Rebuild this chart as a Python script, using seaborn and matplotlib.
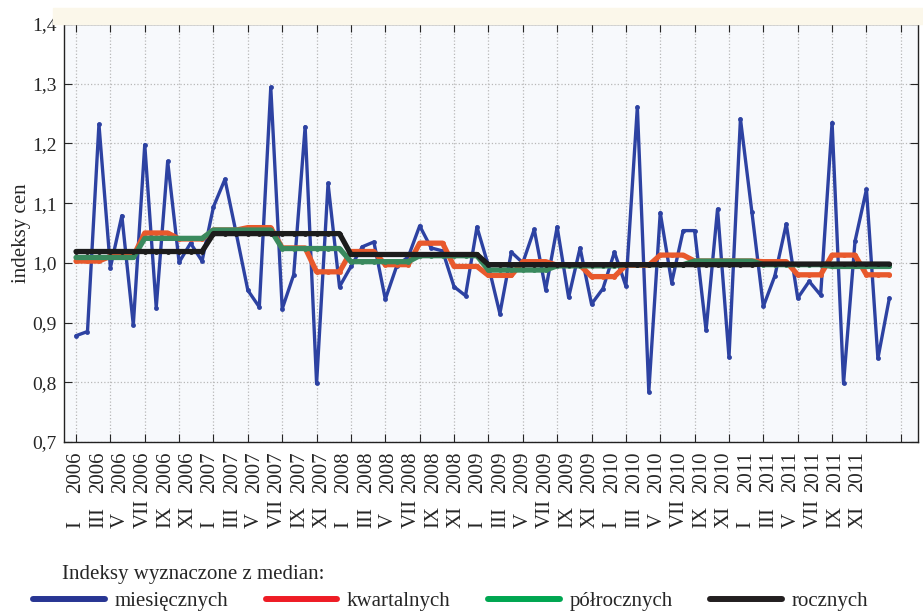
import numpy as np
import pandas as pd
import seaborn as sns
import matplotlib.pyplot as plt
import matplotlib.transforms as mtransforms
from matplotlib.lines import Line2D
from matplotlib.patches import Rectangle

# Dane (indeksy cen, I 2006 - XII 2011)
years = [2006, 2007, 2008, 2009, 2010, 2011]
roman = ["I", "III", "V", "VII", "IX", "XI"]

monthly = [0.878, 0.885, 1.232, 0.992, 1.079, 0.896, 1.198, 0.925, 1.170, 1.001, 1.033, 1.003,
           1.094, 1.140, 1.048, 0.954, 0.926, 1.294, 0.923, 0.980, 1.228, 0.798, 1.133, 0.960,
           0.994, 1.027, 1.035, 0.939, 0.995, 1.010, 1.062, 1.025, 1.020, 0.960, 0.945, 1.060,
           0.995, 0.915, 1.018, 1.000, 1.056, 0.955, 1.060, 0.942, 1.025, 0.931, 0.957, 1.018,
           0.961, 1.261, 0.784, 1.084, 0.967, 1.054, 1.054, 0.887, 1.090, 0.842, 1.241, 1.085,
           0.927, 0.978, 1.065, 0.941, 0.969, 0.946, 1.235, 0.798, 1.036, 1.123, 0.840, 0.941]
quarterly = [1.003, 1.011, 1.050, 1.040,
             1.055, 1.059, 1.025, 0.985,
             1.019, 0.997, 1.033, 0.994,
             0.979, 1.002, 0.996, 0.977,
             0.996, 1.013, 1.003, 1.003,
             1.002, 0.980, 1.013, 0.980]
half_yearly = [1.009, 1.041, 1.055, 1.024, 1.002, 1.012,
               0.988, 0.995, 0.997, 1.003, 0.997, 0.994]
yearly = [1.019, 1.049, 1.014, 0.997, 0.997, 0.998]

series = ["miesięcznych", "kwartalnych", "półrocznych", "rocznych"]
line_colors = ["#2d42a2", "#e8592c", "#3a8a5e", "#1c1c1c"]
legend_colors = ["#283593", "#ee1c25", "#00a651", "#231f20"]

sns.set_style("ticks")
plt.rcParams["font.family"] = ["Liberation Serif", "DejaVu Serif"]
plt.rcParams["font.size"] = 15

df = pd.DataFrame({
    "miesiac": np.arange(len(monthly)),
    "miesięcznych": monthly,
    "kwartalnych": np.repeat(quarterly, 3),
    "półrocznych": np.repeat(half_yearly, 6),
    "rocznych": np.repeat(yearly, 12),
})

fig = plt.figure(figsize=(9.23, 6.11), dpi=100)
fig.patches.append(Rectangle((53 / 923, 587 / 611), 1, 16 / 611, transform=fig.transFigure,
                             color="#fbf7ea", zorder=0))
ax = fig.add_axes([64 / 923, 1 - 442 / 611, (918 - 64) / 923, (442 - 24) / 611])
ax.set_facecolor("#f7f9fc")

widths = [2.4, 3.8, 3.8, 3.8]
for name, col, lw in zip(series, line_colors, widths):
    sns.lineplot(data=df, x="miesiac", y=name, color=col, lw=lw, marker="o",
                 markersize=3.5, markeredgewidth=0, ax=ax)

ax.set_xlim(-1.05, 73.5)
ax.set_ylim(0.7, 1.4)

# siatka co kwartał; opisy w oryginale stoją nieco gęściej niż co 2 miesiące
ax.xaxis.remove_overlapping_locs = False
ax.set_xticks(np.arange(0, 73, 3))
label_pos = np.arange(len(years) * len(roman)) * 1.95
ax.set_xticks(label_pos, minor=True)
ax.set_xticklabels([str(y) for y in years for _ in roman], minor=True, rotation=90)
ax.tick_params(axis="x", which="major", direction="in", length=6, top=True, labelbottom=False)
ax.tick_params(axis="x", which="minor", length=0, pad=7, labelsize=15)

yt = np.round(np.arange(0.7, 1.41, 0.1), 1)
ax.set_yticks(yt)
ax.set_yticklabels([f"{v:.1f}".replace(".", ",") for v in yt])
ax.tick_params(axis="y", direction="in", length=6, right=True, pad=5, labelsize=14)

ax.grid(True, which="major", ls=":", color="#b8b8b8", lw=0.9)
for s in ax.spines.values():
    s.set_color("#222222")
    s.set_linewidth(1.0)

trans = mtransforms.blended_transform_factory(ax.transData, ax.transAxes)
for pos, num in zip(label_pos, roman * len(years)):
    ax.text(pos, -86 / 418, num, transform=trans, rotation=90, ha="center", va="bottom", fontsize=15)

ax.set_xlabel("")
ax.set_ylabel("indeksy cen", fontsize=15, labelpad=1)

# legenda
fig.text(62 / 923, 1 - 575 / 611, "Indeksy wyznaczone z median:", va="center", fontsize=15)
handles = [Line2D([0], [0], color=c, lw=4.3) for c in legend_colors]
fig.legend(handles, series, loc="center left", bbox_to_anchor=(33 / 923, 1 - 601 / 611),
           ncol=4, frameon=False, handlelength=3.45, handletextpad=0.45, columnspacing=1.8,
           borderpad=0, borderaxespad=0, fontsize=15)

fig.savefig("out.png", dpi=100)
